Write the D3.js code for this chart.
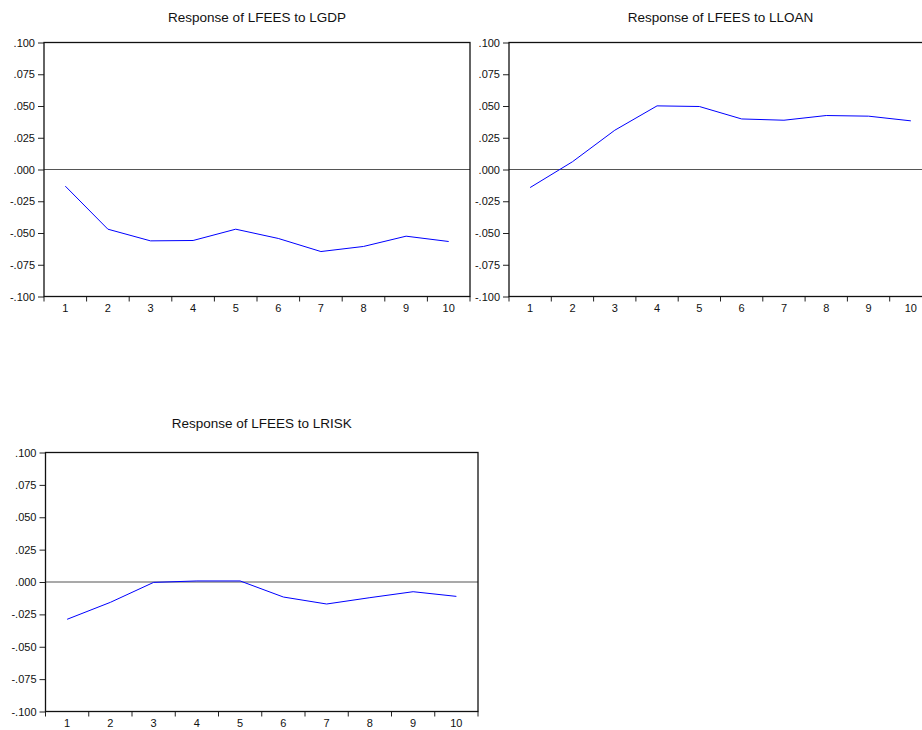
<!DOCTYPE html>
<html>
<head>
<meta charset="utf-8">
<script src="https://cdn.jsdelivr.net/npm/d3@7"></script>
<style>
  html, body { margin: 0; padding: 0; background: #fff; }
  svg { display: block; font-family: "Liberation Sans", Arial, sans-serif; }
</style>
</head>
<body>
<svg id="chart" width="922" height="730"></svg>
<script>
// Impulse responses of LFEES over a 10-period horizon
const periods = [1, 2, 3, 4, 5, 6, 7, 8, 9, 10];
const yTicks = [-0.100, -0.075, -0.050, -0.025, 0.000, 0.025, 0.050, 0.075, 0.100];

const titles = [
  "Response of LFEES to LGDP",
  "Response of LFEES to LLOAN",
  "Response of LFEES to LRISK"
];

const respLGDP  = [-0.0131, -0.0470, -0.0562, -0.0559, -0.0470, -0.0543, -0.0646, -0.0606, -0.0525, -0.0567];
const respLLOAN = [-0.0142, 0.0061, 0.0309, 0.0501, 0.0496, 0.0398, 0.0388, 0.0425, 0.0420, 0.0383];
const respLRISK = [-0.0288, -0.0157, -0.0003, 0.0008, 0.0008, -0.0116, -0.0170, -0.0121, -0.0075, -0.0111];

// Panel boxes (plot area in page pixels)
const panels = [
  { title: titles[0], values: respLGDP,  left: 44,  top: 42.5, right: 470,   bottom: 296.5, titleY: 22 },
  { title: titles[1], values: respLLOAN, left: 509, top: 42.5, right: 932,   bottom: 296.5, titleY: 22 },
  { title: titles[2], values: respLRISK, left: 45.5, top: 452.5, right: 478, bottom: 711.5, titleY: 428 }
];

const svg = d3.select("#chart");
// ".100" style labels: no leading zero, plain hyphen for negatives
const fmt = v => {
  const a = Math.abs(v) < 1e-9 ? 0 : v;
  const s = Math.abs(a).toFixed(3).replace(/^0\./, ".");
  return (a < 0 ? "-" : "") + s;
};

panels.forEach(p => {
  const g = svg.append("g");
  const x = d3.scaleBand().domain(periods).range([p.left, p.right]).paddingInner(0).paddingOuter(0);
  const y = d3.scaleLinear().domain([-0.1, 0.1]).range([p.bottom, p.top]);

  // Title
  g.append("text")
    .attr("x", (p.left + p.right) / 2)
    .attr("y", p.titleY)
    .attr("text-anchor", "middle")
    .attr("font-size", 13.5)
    .attr("fill", "#111")
    .text(p.title);

  // Left axis with values
  const yAxis = d3.axisLeft(y).tickValues(yTicks).tickFormat(fmt).tickSize(6).tickPadding(3);
  const ya = g.append("g").attr("transform", `translate(${p.left},0)`).call(yAxis);
  ya.select(".domain").remove();
  ya.selectAll(".tick line").attr("stroke", "#222");
  ya.selectAll(".tick text").attr("font-size", 11).attr("fill", "#111")
    .attr("font-family", "Liberation Sans, Arial, sans-serif");

  // Bottom axis: labels centred in each period band
  const xAxis = d3.axisBottom(x).tickSize(0).tickPadding(8);
  const xa = g.append("g").attr("transform", `translate(0,${p.bottom})`).call(xAxis);
  xa.select(".domain").remove();
  xa.selectAll(".tick text").attr("font-size", 11).attr("fill", "#111")
    .attr("font-family", "Liberation Sans, Arial, sans-serif");

  // Tick marks on period boundaries
  const bounds = d3.range(periods.length + 1).map(i => p.left + i * x.step());
  g.append("g").selectAll("line").data(bounds).join("line")
    .attr("x1", d => d).attr("x2", d => d)
    .attr("y1", p.bottom).attr("y2", p.bottom + 5)
    .attr("stroke", "#222");

  // Zero reference line
  g.append("line")
    .attr("x1", p.left).attr("x2", p.right)
    .attr("y1", y(0)).attr("y2", y(0))
    .attr("stroke", "#555").attr("stroke-width", 1.2);

  // Response line
  const line = d3.line()
    .x((d, i) => x(periods[i]) + x.bandwidth() / 2)
    .y(d => y(d));
  g.append("path")
    .datum(p.values)
    .attr("d", line)
    .attr("fill", "none")
    .attr("stroke", "#0000ff")
    .attr("stroke-width", 1);

  // Frame
  g.append("rect")
    .attr("x", p.left).attr("y", p.top)
    .attr("width", p.right - p.left).attr("height", p.bottom - p.top)
    .attr("fill", "none")
    .attr("stroke", "#111")
    .attr("stroke-width", 1.3);
});
</script>
</body>
</html>
